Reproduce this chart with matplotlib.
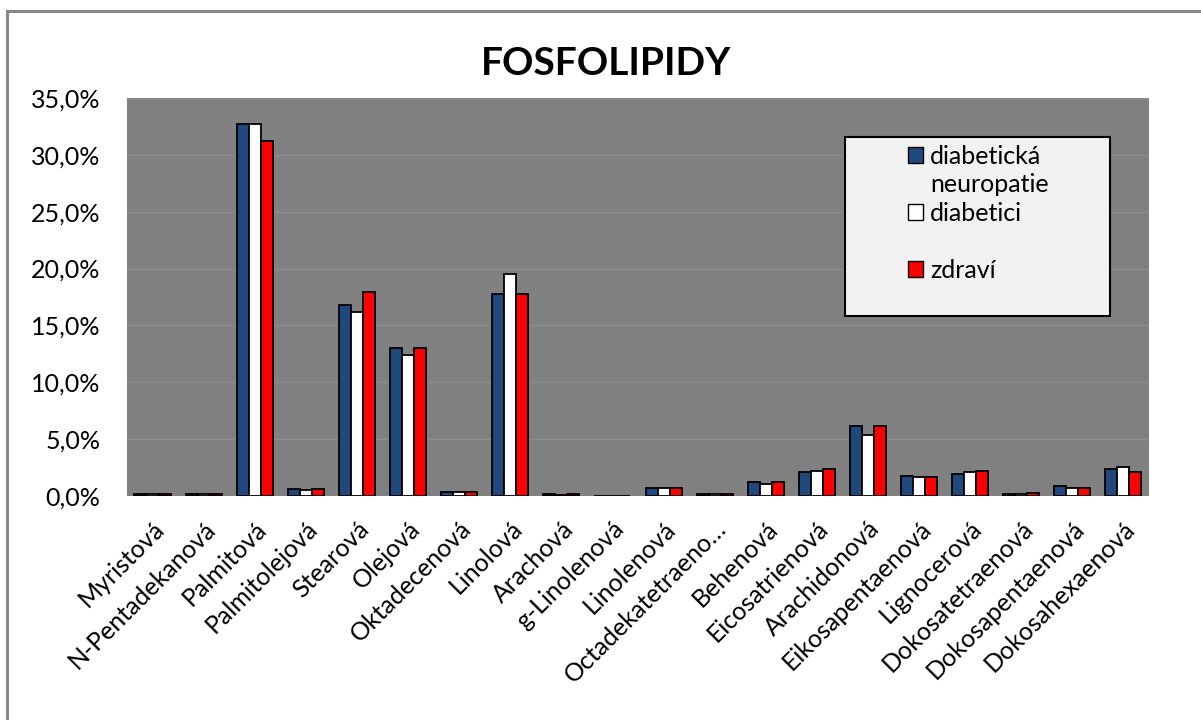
import numpy as np
import matplotlib
matplotlib.use("Agg")
import matplotlib.pyplot as plt
from matplotlib.patches import Patch, Rectangle
from matplotlib.ticker import FuncFormatter

plt.rcParams['font.family'] = ['Lato', 'DejaVu Sans']

categories = ["Myristová", "N-Pentadekanová", "Palmitová", "Palmitolejová", "Stearová",
              "Olejová", "Oktadecenová", "Linolová", "Arachová", "g-Linolenová",
              "Linolenová", "Octadekatetraeno…", "Behenová", "Eicosatrienová",
              "Arachidonová", "Eikosapentaenová", "Lignocerová", "Dokosatetraenová",
              "Dokosapentaenová", "Dokosahexaenová"]

neuropatie = [0.2, 0.2, 32.7, 0.6, 16.8, 13.0, 0.35, 17.8, 0.15, 0.05,
              0.75, 0.2, 1.2, 2.1, 6.2, 1.75, 1.9, 0.15, 0.85, 2.35]
diabetici = [0.2, 0.2, 32.7, 0.5, 16.2, 12.4, 0.35, 19.5, 0.1, 0.05,
             0.75, 0.2, 1.1, 2.2, 5.35, 1.65, 2.1, 0.15, 0.7, 2.55]
zdravi = [0.2, 0.2, 31.2, 0.6, 17.9, 13.0, 0.35, 17.8, 0.15, 0.05,
          0.75, 0.2, 1.2, 2.35, 6.15, 1.65, 2.2, 0.3, 0.7, 2.1]

series = [("diabetická\nneuropatie", neuropatie, "#1f497d"),
          ("diabetici", diabetici, "white"),
          ("zdraví", zdravi, "red")]

fig = plt.figure(figsize=(12.01, 7.2), dpi=100)
ax = fig.add_axes([0.1057, 0.311, 0.851, 0.553])
ax.set_facecolor("#808080")

x = np.arange(len(categories))
w = 0.235
for i, (name, vals, col) in enumerate(series):
    ax.bar(x + (i - 1) * w, vals, w, color=col, edgecolor="black", linewidth=1.3, zorder=3)

ax.set_xlim(-0.5, len(categories) - 0.5)
ax.set_ylim(0, 35)
ax.set_yticks(np.arange(0, 36, 5))
ax.yaxis.set_major_formatter(FuncFormatter(lambda v, p: f"{v:.1f}%".replace(".", ",")))
ax.grid(axis="y", color="#8c8c8c", linewidth=1, zorder=0)
for s in ax.spines.values():
    s.set_visible(False)
ax.tick_params(axis="both", length=0, labelsize=18)
ax.tick_params(axis="y", pad=19)
ax.set_xticks(x)
ax.set_xticklabels(categories, rotation=45, ha="right", rotation_mode="anchor")
ax.tick_params(axis="x", pad=15)

fig.text(0.505, 0.912, "FOSFOLIPIDY", ha="center", va="center",
         fontsize=28, fontweight="bold")

# legend box
fig.patches.append(Rectangle((0.7036, 0.561), 0.2204, 0.2486, transform=fig.transFigure,
                             facecolor="#f2f2f2", edgecolor="black", linewidth=1.5, zorder=5))
handles = [Patch(facecolor="#1f497d", edgecolor="black"),
           Patch(alpha=0),
           Patch(facecolor="white", edgecolor="black"),
           Patch(alpha=0),
           Patch(facecolor="red", edgecolor="black")]
labels = ["diabetická", "neuropatie", "diabetici", " ", "zdraví"]
leg = fig.legend(handles, labels, loc="upper left", bbox_to_anchor=(0.7455, 0.816),
                 frameon=False, fontsize=18, handlelength=0.6, handleheight=0.6,
                 handletextpad=0.3, labelspacing=0.22, borderpad=0)
leg.set_zorder(6)

# outer chart border
fig.patches.append(Rectangle((0.0055, -0.05), 1.1, 1.035, transform=fig.transFigure,
                             fill=False, edgecolor="#888888", linewidth=2.2))

fig.savefig("out.png", dpi=100)
